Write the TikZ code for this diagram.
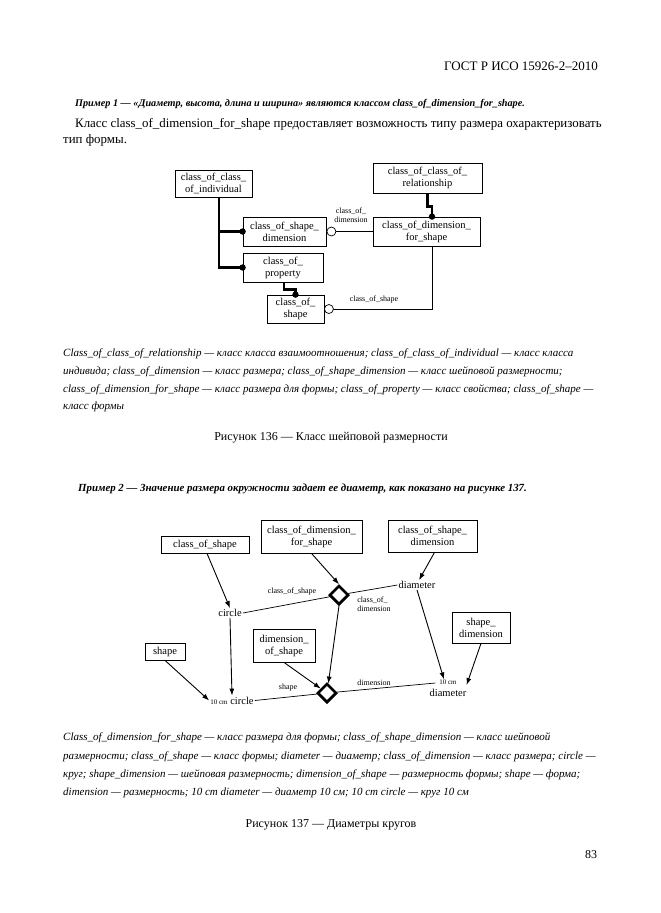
\documentclass[tikz,border=0pt]{standalone}
\usepackage{fontspec}
\setmainfont{Liberation Serif}
\usetikzlibrary{shapes.geometric,arrows.meta,calc}
\begin{document}
\begin{tikzpicture}[x=1pt,y=-1pt,
 box/.style={draw,line width=0.8pt,align=center,inner sep=1pt,font=\fontsize{10.5}{12}\selectfont},
 thk/.style={line width=2.6pt},
 thn/.style={line width=0.7pt},
 lbl/.style={font=\fontsize{8}{9}\selectfont,inner sep=0pt,align=center},
 plaintxt/.style={font=\fontsize{10.5}{12}\selectfont,inner sep=1pt,align=center},
 arr/.style={line width=0.9pt,-{Latex[length=7pt,width=5pt]}},
 dia/.style={diamond,draw,line width=2.5pt,minimum size=19pt,inner sep=0pt,fill=white},
 bodytxt/.style={anchor=west,inner sep=0pt,font=\fontsize{12.9}{14}\selectfont},
 bex/.style={anchor=west,inner sep=0pt,font=\fontsize{10.2}{13}\bfseries\itshape},
 captxt/.style={anchor=west,inner sep=0pt,font=\fontsize{11}{13}\itshape},
 figcap/.style={inner sep=0pt,font=\fontsize{12}{14}\selectfont},
]
\useasboundingbox (0,0) rectangle (661,913);
\fill[white] (0,0) rectangle (661,913);

% header and page number
\node[anchor=east,inner sep=0pt,font=\fontsize{13}{15}\selectfont] (hdr) at (598,66) {ГОСТ Р ИСО 15926-2–2010};
\node[inner sep=0pt,font=\fontsize{12}{14}\selectfont] (pg) at (591,855) {83};

% text above figure 136
\node[bex] (ex1) at (75,104) {Пример 1 — «Диаметр, высота, длина и ширина» являются классом class\_of\_dimension\_for\_shape.};
\node[bodytxt] (t2) at (75,124) {Класс class\_of\_dimension\_for\_shape предоставляет возможность типу размера охарактеризовать};
\node[bodytxt] (t3) at (63,140) {тип формы.};

% ---------- Figure 136 ----------
\node[box,minimum width=77pt,minimum height=27pt] (cocoi) at (213.5,183.5) {class\_of\_class\_\\of\_individual};
\node[box,minimum width=109pt,minimum height=30pt] (cocor) at (427.5,178) {class\_of\_class\_of\_\\relationship};
\node[box,minimum width=83pt,minimum height=29pt] (cosd) at (284.5,231.5) {class\_of\_shape\_\\dimension};
\node[box,minimum width=107pt,minimum height=29pt] (codfs) at (426.5,231.5) {class\_of\_dimension\_\\for\_shape};
\node[box,minimum width=80pt,minimum height=29pt] (cop) at (283,267.5) {class\_of\_\\property};
\node[box,minimum width=57pt,minimum height=28pt] (cos) at (295.5,309) {class\_of\_\\shape};

\draw[thk] ([xshift=5.5pt]cocoi.south) |- (cop.west);
\draw[thk] ([xshift=5.5pt]cocoi.south) |- (cosd.west);
\fill (cosd.west) circle (3.2);
\fill (cop.west) circle (3.2);
\draw[thk] ([xshift=1pt]cop.south) -- ++(0,7) -| (cos.north);
\fill (cos.north) circle (3.2);
\draw[thk] (cocor.south) -- ++(0,13) -| ([xshift=5.5pt]codfs.north);
\fill ([xshift=5.5pt]codfs.north) circle (3.2);

\draw[thn] (cosd.east) -- (codfs.west);
\draw[thn,fill=white] ([xshift=5pt]cosd.east) circle (4.5);
\node[lbl] (l1) at (351,215) {class\_of\_\\dimension};
\draw[thn] ([xshift=5.5pt]codfs.south) |- (cos.east);
\draw[thn,fill=white] ([xshift=4.5pt]cos.east) circle (4.5);
\node[lbl] (l2) at (374,300) {class\_of\_shape};

% caption 136
\node[captxt] (c1) at (63,354) {Class\_of\_class\_of\_relationship — класс класса взаимоотношения; class\_of\_class\_of\_individual — класс класса};
\node[captxt] (c2) at (63,372) {индивида; class\_of\_dimension — класс размера; class\_of\_shape\_dimension — класс шейповой размерности;};
\node[captxt] (c3) at (63,390) {class\_of\_dimension\_for\_shape — класс размера для формы; class\_of\_property — класс свойства; class\_of\_shape —};
\node[captxt] (c4) at (63,407) {класс формы};
\node[figcap] (f136) at (331,438) {Рисунок 136 — Класс шейповой размерности};

\node[bex,font=\fontsize{10.85}{13}\bfseries\itshape] (ex2) at (78,489) {Пример 2 — Значение размера окружности задает ее диаметр, как показано на рисунке 137.};

% ---------- Figure 137 ----------
\node[box,minimum width=88pt,minimum height=17pt] (cos2) at (205,544.5) {class\_of\_shape};
\node[box,minimum width=101pt,minimum height=33pt] (codfs2) at (311.5,536.5) {class\_of\_dimension\_\\for\_shape};
\node[box,minimum width=89pt,minimum height=32pt] (cosd2) at (432.5,536) {class\_of\_shape\_\\dimension};
\node[box,minimum width=58pt,minimum height=31pt] (shdim) at (481,627.5) {shape\_\\dimension};
\node[box,minimum width=62pt,minimum height=33pt] (dimos) at (284,645.5) {dimension\_\\of\_shape};
\node[box,minimum width=40pt,minimum height=17pt] (shp) at (165,651.5) {shape};

\node[plaintxt] (circ) at (230,613) {circle};
\node[plaintxt] (diam) at (417,585) {diameter};
\node[plaintxt] (circ2) at (232,700.5) {{\fontsize{7}{8}\selectfont 10 cm} circle};
\node[plaintxt,inner sep=0pt] (diam2) at (448,688) {{\fontsize{7}{8}\selectfont 10 cm}\\diameter};

\node[dia] (d1) at (339,595) {};
\node[dia] (d2) at (327,693) {};

\draw[thn] (d1) -- (circ.east);
\draw[thn] (d1) -- (diam.west);
\draw[thn] (d2) -- (circ2.east);
\draw[thn] (d2) -- ([shift={(6pt,5pt)}]diam2.west);
\node[dia] at (d1) {};
\node[dia] at (d2) {};

\draw[arr] ([xshift=2pt]cos2.south) -- (circ.north);
\draw[arr] (codfs2.south) -- (d1.north);
\draw[arr] ([xshift=2pt]cosd2.south) -- ([xshift=2pt]diam.north);
\draw[arr] (d1.south) -- (d2);
\draw[arr] (circ.south) -- (circ2.north);
\draw[arr] (diam.south) -- ([xshift=-4pt]diam2.north);
\draw[arr] (shdim.south) -- ([yshift=3pt]diam2.east);
\draw[arr] (shp.south) -- (circ2.west);
\draw[arr] (dimos.south) -- (d2);

\node[lbl] (l3) at (292,592) {class\_of\_shape};
\node[lbl,align=left] (l4) at (374,604) {class\_of\_\\dimension};
\node[lbl] (l5) at (288,688) {shape};
\node[lbl] (l6) at (374,683) {dimension};

% caption 137
\node[captxt] (e1) at (63,738) {Class\_of\_dimension\_for\_shape — класс размера для формы; class\_of\_shape\_dimension — класс шейповой};
\node[captxt] (e2) at (63,757) {размерности; class\_of\_shape — класс формы; diameter — диаметр; class\_of\_dimension — класс размера; circle —};
\node[captxt] (e3) at (63,775) {круг; shape\_dimension — шейповая размерность; dimension\_of\_shape — размерность формы; shape — форма;};
\node[captxt] (e4) at (63,793) {dimension — размерность; 10 cm diameter — диаметр 10 см; 10 cm circle — круг 10 см};
\node[figcap] (f137) at (331,825) {Рисунок 137 — Диаметры кругов};
\end{tikzpicture}
\end{document}
